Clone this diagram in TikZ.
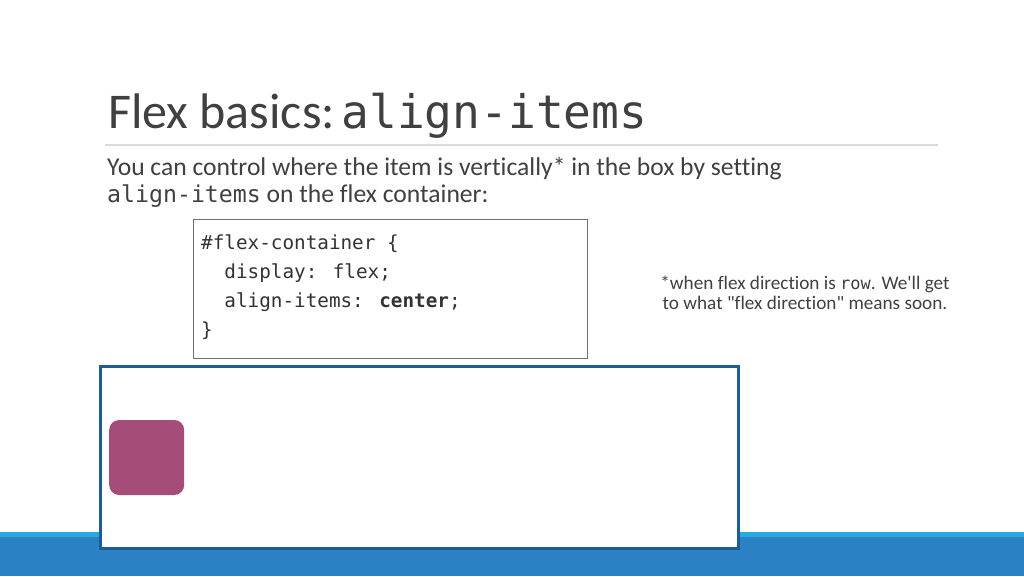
\documentclass[tikz,border=0pt]{standalone}
\usepackage{fontspec}
\setmainfont{Carlito}[Ligatures=NoCommon]
\newfontfamily\codefont{DejaVu Sans Mono}
\usetikzlibrary{positioning,calc}

\definecolor{txtgray}{HTML}{404040}
\definecolor{rulegray}{HTML}{D9D9D9}
\definecolor{boxgray}{HTML}{6E6E6E}
\definecolor{bandlight}{HTML}{29A9E1}
\definecolor{banddark}{HTML}{2A82C5}
\definecolor{flexblue}{HTML}{1C5C97}
\definecolor{itemmag}{HTML}{A54D78}

\begin{document}
\begin{tikzpicture}[x=1pt,y=-1pt,
		title/.style={anchor=base west,inner sep=0pt,text=txtgray,font=\fontsize{50}{60}\selectfont},
		body/.style={anchor=base west,inner sep=0pt,text=txtgray,font=\fontsize{25.6}{27}\selectfont},
		code/.style={anchor=north west,inner sep=0pt,align=left,text=black!80,font=\codefont\fontsize{19.3}{29}\selectfont},
		note/.style={inner sep=0pt,align=center,text=txtgray,font=\fontsize{19.2}{20}\selectfont}]

		% page and bottom band
		\fill[white] (0,0) rectangle (1024,576);
		\fill[bandlight] (0,532) rectangle (1024,537);
		\fill[banddark] (0,537) rectangle (1024,576);

		\node[title] (T1) at (108,128) {Flex basics:};
		\node[title, right=6 of T1.base east, anchor=base west, font=\codefont\fontsize{46.2}{50}\selectfont] (T2) {align-items};
		\draw[rulegray, line width=1.2] (105,145) -- (938,145);

		\node[body] (L1) at (107,175) {You can control where the item is vertically* in the box by setting};
		\node[body] (L2) at (107,202) {{\codefont\fontsize{23.2}{27}\selectfont align-items} on the flex container:};

		\node[draw=boxgray, line width=.8, fill=white, minimum width=394, minimum height=139, inner sep=0pt, anchor=north west] (codebox) at (193,219) {};
		\node[code] (src) at ($(codebox.north west)+(8,16)$) {\#flex-container \{\\
			\ \ display: flex;\\
			\ \ align-items: \textbf{center};\\
			\}};

		\node[note] (foot) at (805,293) {*when flex direction is {\codefont\fontsize{17}{20}\selectfont row}. We\textquotesingle ll get\\to what \textquotedbl flex direction\textquotedbl{} means soon.};

		% flex container and its item
		\node[draw=flexblue, line width=3, fill=white, minimum width=638, minimum height=182, inner sep=0pt, anchor=north west] (flexbox) at (99,365) {};
		\node[fill=itemmag, rounded corners=10, minimum size=75, inner sep=0pt, anchor=west] (item) at ($(flexbox.west)+(10,0)$) {};

	\end{tikzpicture}
\end{document}
